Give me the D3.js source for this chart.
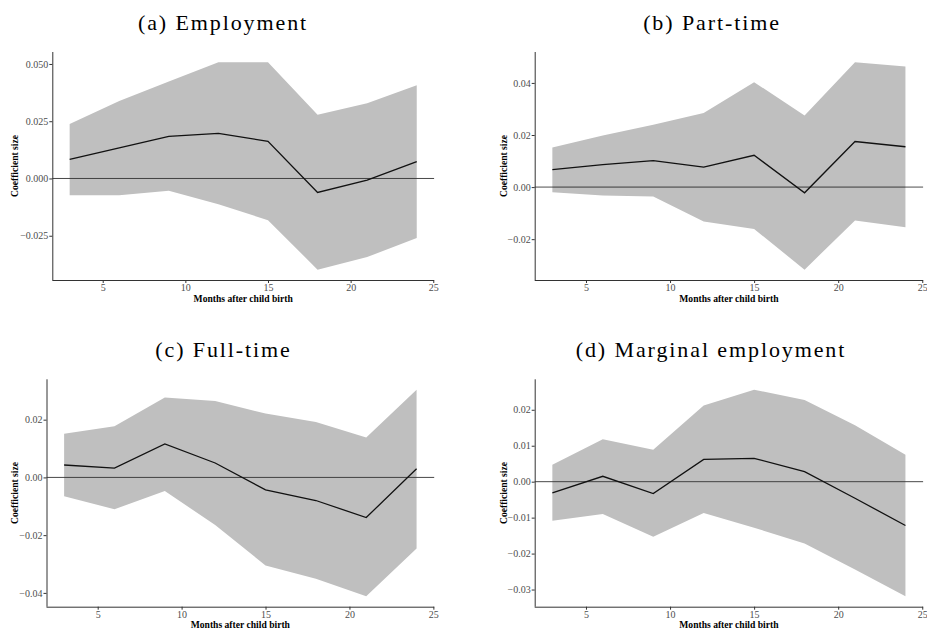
<!DOCTYPE html>
<html>
<head>
<meta charset="utf-8">
<script src="https://cdn.jsdelivr.net/npm/d3@7"></script>
<style>
  body { margin: 0; background: #fff; }
  svg { display: block; }
</style>
</head>
<body>
<div id="chart"></div>
<script>
// Months after birth (x values shared by all panels)
const months = [3, 6, 9, 12, 15, 18, 21, 24];

// (a) Employment
const empEst = [0.0083, 0.0134, 0.0184, 0.0197, 0.0162, -0.0061, -0.0007, 0.0074];
const empLo  = [-0.0073, -0.0073, -0.0054, -0.0112, -0.0182, -0.0398, -0.0343, -0.0260];
const empHi  = [0.0238, 0.0338, 0.0423, 0.0507, 0.0507, 0.0278, 0.0328, 0.0407];

// (b) Part-time
const ptEst = [0.0067, 0.0086, 0.0102, 0.0077, 0.0122, -0.0022, 0.0175, 0.0155];
const ptLo  = [-0.0020, -0.0032, -0.0036, -0.0132, -0.0161, -0.0317, -0.0128, -0.0154];
const ptHi  = [0.0152, 0.0198, 0.0239, 0.0285, 0.0403, 0.0275, 0.0479, 0.0463];

// (c) Full-time
const ftEst = [0.0043, 0.0032, 0.0116, 0.0050, -0.0043, -0.0080, -0.0139, 0.0030];
const ftLo  = [-0.0065, -0.0110, -0.0047, -0.0165, -0.0305, -0.0351, -0.0412, -0.0246];
const ftHi  = [0.0151, 0.0177, 0.0277, 0.0265, 0.0221, 0.0192, 0.0138, 0.0304];

// (d) Marginal employment
const meEst = [-0.0031, 0.0015, -0.0033, 0.0062, 0.0065, 0.0028, -0.0046, -0.0122];
const meLo  = [-0.0109, -0.0090, -0.0153, -0.0087, -0.0128, -0.0172, -0.0244, -0.0319];
const meHi  = [0.0047, 0.0118, 0.0089, 0.0212, 0.0256, 0.0227, 0.0157, 0.0075];

// Tick values
const xTicks = [5, 10, 15, 20, 25];
const empTicks = [-0.025, 0, 0.025, 0.05];
const ptTicks = [-0.02, 0, 0.02, 0.04];
const ftTicks = [-0.04, -0.02, 0, 0.02];
const meTicks = [-0.03, -0.02, -0.01, 0, 0.01, 0.02];

const titles = ["(a) Employment", "(b) Part-time", "(c) Full-time", "(d) Marginal employment"];

const width = 927, height = 633;

const svg = d3.select("#chart")
    .append("svg")
    .attr("width", width)
    .attr("height", height);

// panel boxes (left, right, top, bottom) and title placement
const panels = [
    { est: empEst, lo: empLo, hi: empHi, ticks: empTicks, fmt: ".3f",
      box: [52.3, 434.1, 52, 280], tx: 222, ty: 29.5, yl: 18, zero: "normal" },
    { est: ptEst, lo: ptLo, hi: ptHi, ticks: ptTicks, fmt: ".2f",
      box: [534.7, 923.1, 52, 280], tx: 711, ty: 29.5, yl: 507, zero: "grey" },
    { est: ftEst, lo: ftLo, hi: ftHi, ticks: ftTicks, fmt: ".2f",
      box: [46.5, 434.2, 379.3, 606.7], tx: 222.5, ty: 357.3, yl: 18, zero: "normal" },
    { est: meEst, lo: meLo, hi: meHi, ticks: meTicks, fmt: ".2f",
      box: [534.7, 923.1, 379.3, 606.7], tx: 710, ty: 357.3, yl: 507, zero: "normal" }
];

panels.forEach((p, i) => {
    const [left, right, top, bottom] = p.box;
    const data = months.map((m, j) => ({ m: m, est: p.est[j], lo: p.lo[j], hi: p.hi[j] }));

    // ggplot-style 5% expansion
    const xr = d3.extent(months), xpad = (xr[1] - xr[0]) * 0.05;
    const x = d3.scaleLinear().domain([xr[0] - xpad, xr[1] + xpad]).range([left, right]);
    const ymin = d3.min(p.lo), ymax = d3.max(p.hi), ypad = (ymax - ymin) * 0.05;
    const y = d3.scaleLinear().domain([ymin - ypad, ymax + ypad]).range([bottom, top]);

    const g = svg.append("g");

    // confidence band
    g.append("path")
        .datum(data)
        .attr("fill", "#bfbfbf")
        .attr("d", d3.area().x(d => x(d.m)).y0(d => y(d.lo)).y1(d => y(d.hi)));

    // zero line
    const zl = g.append("line")
        .attr("x1", left).attr("x2", right)
        .attr("y1", y(0)).attr("y2", y(0));
    if (p.zero === "grey") {
        zl.attr("stroke", "#000").attr("stroke-opacity", 0.4).attr("stroke-width", 1.6);
    } else {
        zl.attr("stroke", "#333").attr("stroke-width", 0.9);
    }

    // estimate line
    g.append("path")
        .datum(data)
        .attr("fill", "none")
        .attr("stroke", "#111")
        .attr("stroke-width", 1.3)
        .attr("d", d3.line().x(d => x(d.m)).y(d => y(d.est)));

    // axes
    const xAxis = g.append("g")
        .attr("transform", `translate(0,${bottom})`)
        .call(d3.axisBottom(x).tickValues(xTicks).tickSize(3).tickPadding(1).tickSizeOuter(0));
    const yAxis = g.append("g")
        .attr("transform", `translate(${left},0)`)
        .call(d3.axisLeft(y).tickValues(p.ticks).tickFormat(d3.format(p.fmt)).tickSize(3).tickPadding(1).tickSizeOuter(0));

    [xAxis, yAxis].forEach(a => {
        a.select(".domain").attr("stroke", "#333").attr("stroke-width", 1);
        a.selectAll(".tick line").attr("stroke", "#333");
        a.selectAll(".tick text")
            .attr("fill", "#4d4d4d")
            .style("font-family", "'Liberation Serif', 'Times New Roman', serif")
            .style("font-size", "10px");
    });
    yAxis.selectAll(".domain").attr("d", `M0.5,${top}V${bottom}`);
    xAxis.selectAll(".domain").attr("d", `M${left},0.5H${right}`);

    // axis titles
    g.append("text")
        .attr("x", (left + right) / 2)
        .attr("y", bottom + 21.5)
        .attr("text-anchor", "middle")
        .style("font-family", "'Liberation Serif', 'Times New Roman', serif")
        .style("font-weight", "bold")
        .style("font-size", "9.6px")
        .text("Months after child birth");

    g.append("text")
        .attr("transform", `translate(${p.yl},${(top + bottom) / 2}) rotate(-90)`)
        .attr("text-anchor", "middle")
        .style("font-family", "'Liberation Serif', 'Times New Roman', serif")
        .style("font-weight", "bold")
        .style("font-size", "9.6px")
        .text("Coefficient size");

    // panel title (letter-spaced serif to mimic the LaTeX caption)
    svg.append("text")
        .attr("x", p.tx + 1)
        .attr("y", p.ty)
        .attr("text-anchor", "middle")
        .style("font-family", "'Liberation Serif', 'Times New Roman', serif")
        .style("font-size", "22px")
        .style("letter-spacing", "1.9px")
        .text(titles[i]);
});
</script>
</body>
</html>
